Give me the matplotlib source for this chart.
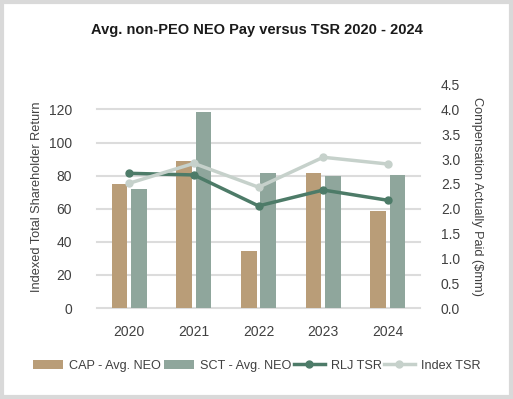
import matplotlib.pyplot as plt
import matplotlib.patches as mpatches
import numpy as np

plt.rcParams['font.family'] = ['Liberation Sans', 'DejaVu Sans']

# data
years = ['2020', '2021', '2022', '2023', '2024']
cap_avg_neo = [2.49, 2.96, 1.14, 2.71, 1.96]      # $mm, right axis
sct_avg_neo = [2.39, 3.94, 2.71, 2.65, 2.67]      # $mm, right axis
rlj_tsr = [81.4, 80.4, 61.7, 71.3, 65.1]          # indexed, left axis
index_tsr = [75.4, 87.4, 73.0, 91.1, 87.0]        # indexed, left axis

left_ticks = [0, 20, 40, 60, 80, 100, 120]
right_ticks = [0.0, 0.5, 1.0, 1.5, 2.0, 2.5, 3.0, 3.5, 4.0, 4.5]

c_cap = '#b99d78'
c_sct = '#8fa69c'
c_rlj = '#4d7b68'
c_idx = '#c6d1cb'
txt = '#404040'

fig = plt.figure(figsize=(5.13, 3.99), dpi=100)
ax = fig.add_axes([0.189, 0.228, 0.630, 0.560])
ax2 = ax.twinx()

x = np.arange(len(years))
w = 0.24

ax.set_ylim(0, 135)
ax.set_yticks(left_ticks)
ax.set_xlim(-0.5, 4.5)
ax.set_xticks(x)
ax.set_xticklabels(years)

# horizontal gridlines at the TSR ticks, behind the bars
for t in left_ticks:
    ax.axhline(t, color='#dcdcdc', lw=1.5, zorder=0.5, clip_on=False)

# bars on the compensation axis
bar_cap = ax2.bar(x - 0.15, cap_avg_neo, width=w, color=c_cap, zorder=2)
bar_sct = ax2.bar(x + 0.15, sct_avg_neo, width=w, color=c_sct, zorder=2)
ax2.set_ylim(0, 4.5)
ax2.set_yticks(right_ticks)
ax2.set_yticklabels([f'{t:.1f}' for t in right_ticks])

# lines drawn on the twin through the TSR scale, so they sit above the bars
tsr_scale = ax.transData
rlj_line, = ax2.plot(x, rlj_tsr, color=c_rlj, lw=2.5, marker='o', ms=5,
                     zorder=3, transform=tsr_scale)
idx_line, = ax2.plot(x, index_tsr, color=c_idx, lw=2.5, marker='o', ms=5,
                     zorder=4, transform=tsr_scale)
ax2.set_ylim(0, 4.5)

for a in (ax, ax2):
    for s in a.spines.values():
        s.set_visible(False)
    a.tick_params(length=0, labelsize=10, colors=txt)
ax.tick_params(axis='y', pad=18)
ax.tick_params(axis='x', pad=12)
ax2.tick_params(axis='y', pad=15)

ax.set_ylabel('Indexed Total Shareholder Return', fontsize=9.2, color=txt, labelpad=4)
ax2.set_ylabel('Compensation Actually Paid ($mm)', fontsize=9.2, color=txt,
               rotation=-90, labelpad=16)

fig.text(0.5, 0.925, 'Avg. non-PEO NEO Pay versus TSR 2020 - 2024', ha='center',
         va='center', fontsize=10.5, fontweight='bold', color='#1a1a1a')

fig.legend([bar_cap, bar_sct, rlj_line, idx_line],
           ['CAP - Avg. NEO', 'SCT - Avg. NEO', 'RLJ TSR', 'Index TSR'],
           loc='center', bbox_to_anchor=(0.5, 0.083), ncol=4,
           frameon=False, fontsize=9.1, handlelength=2.4, handletextpad=0.5,
           columnspacing=0.2, labelcolor=txt)

fig.patches.append(mpatches.Rectangle((0.003, 0.004), 0.994, 0.992, transform=fig.transFigure,
                                      fill=False, edgecolor='#d9d9d9', lw=3))

fig.savefig('out.png', dpi=100)
